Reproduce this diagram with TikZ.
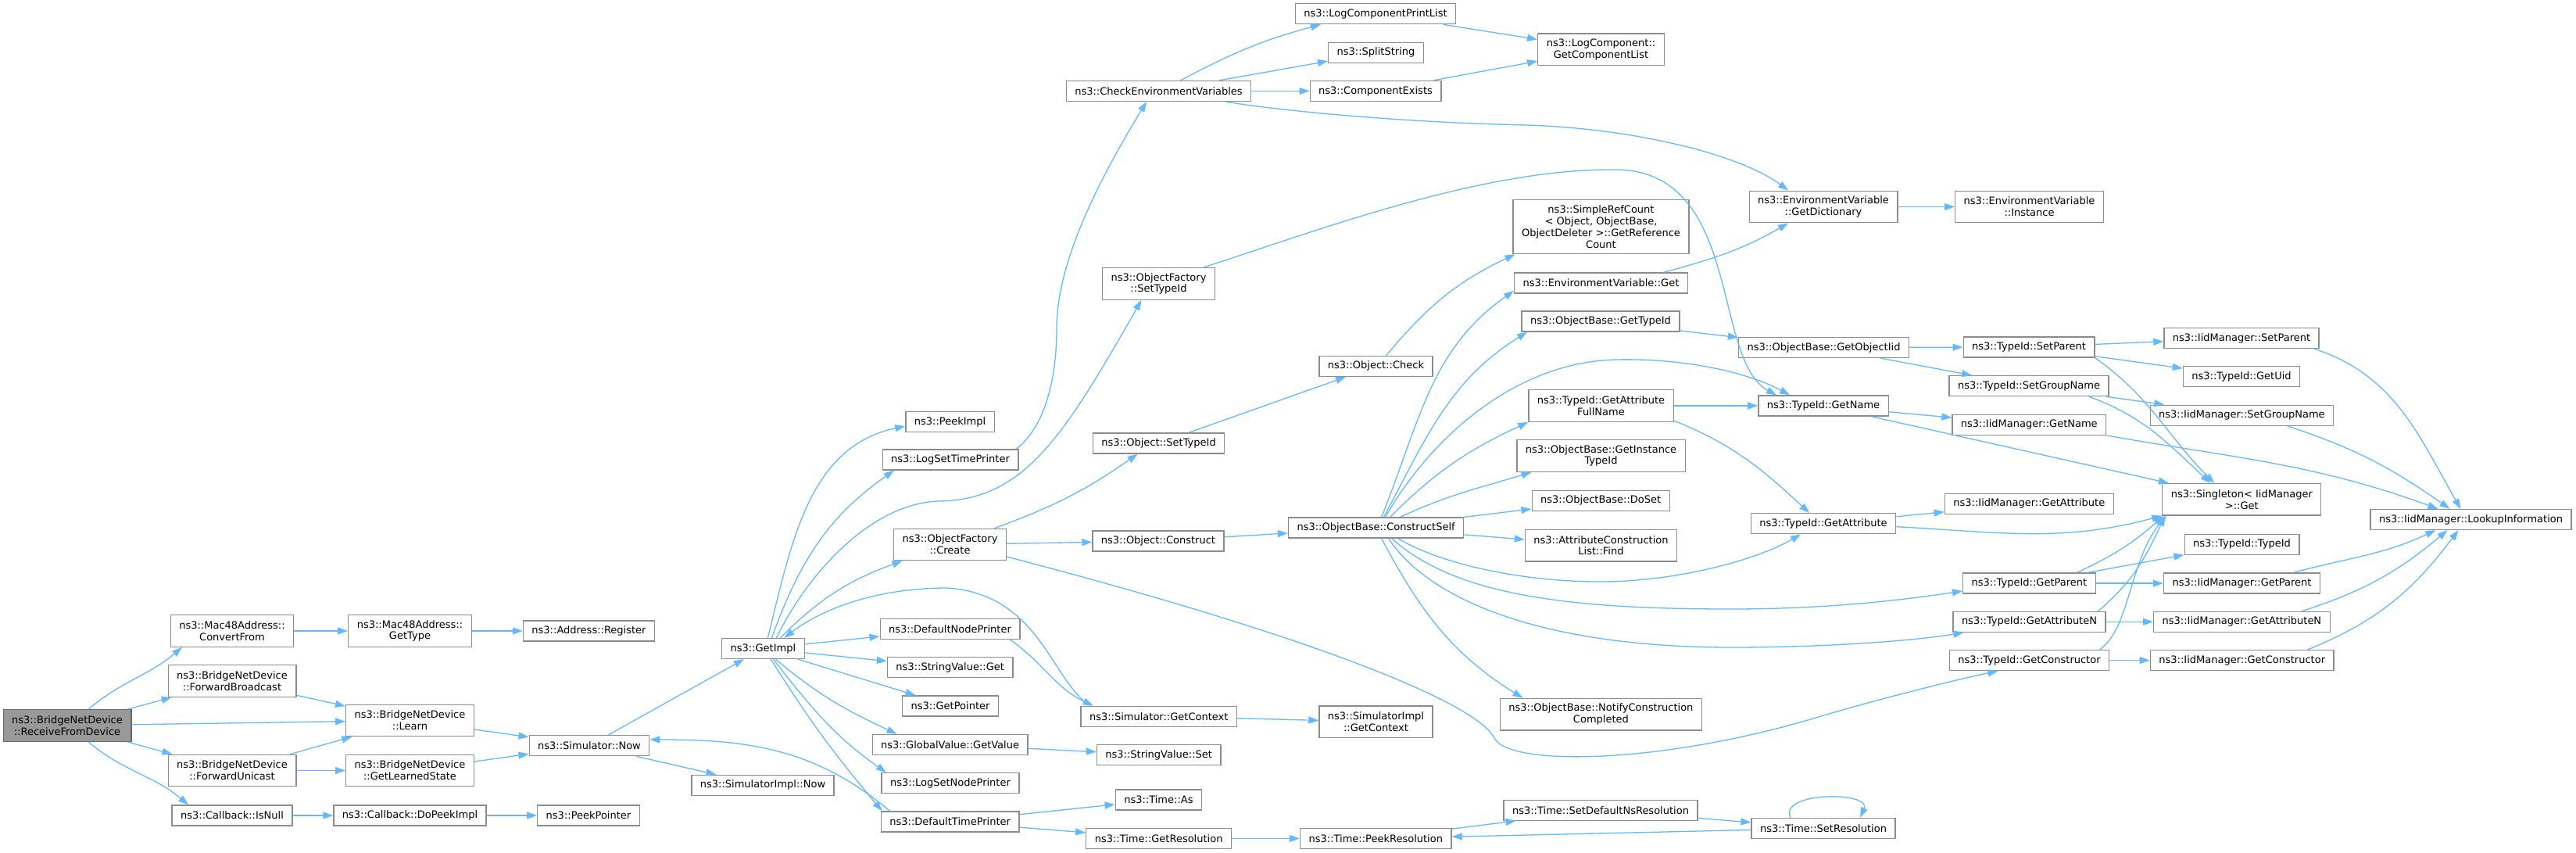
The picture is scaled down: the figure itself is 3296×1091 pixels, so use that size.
\documentclass[tikz,border=0pt]{standalone}
\usepackage{fontspec}
\setmainfont{DejaVu Sans}
\usetikzlibrary{arrows.meta}

\definecolor{callblue}{HTML}{63B8FF}
\definecolor{boxgray}{HTML}{8C8C8C}
\definecolor{rootgray}{HTML}{999999}
\definecolor{rootline}{HTML}{666666}

\tikzset{
  func/.style={draw=boxgray, fill=white, line width=1.3pt, inner xsep=11pt, inner ysep=2pt,
    minimum height=26pt, align=center},
  functwo/.style={func, minimum height=40.5pt},
  rootfunc/.style={functwo, fill=rootgray, draw=rootline},
  call/.style={draw=callblue, line width=1.3pt, -{Triangle[length=13pt,width=9pt]}},
}

\begin{document}
\begin{tikzpicture}[x=1pt, y=1pt, font=\fontsize{13}{14.8}\selectfont]
    \useasboundingbox (0,0) rectangle (3296,-1091);

    % Functions, column by column:
    \node[rootfunc] (rfd) at (86,-928) {ns3::BridgeNetDevice\\::ReceiveFromDevice};

    \node[functwo] (cvf) at (297,-807) {ns3::Mac48Address::\\ConvertFrom};
    \node[functwo] (fbc) at (297,-871) {ns3::BridgeNetDevice\\::ForwardBroadcast};
    \node[functwo] (fuc) at (297,-985.5) {ns3::BridgeNetDevice\\::ForwardUnicast};
    \node[func] (isnull) at (297,-1043) {ns3::Callback::IsNull};

    \node[functwo] (gettype) at (524.5,-807) {ns3::Mac48Address::\\GetType};
    \node[functwo] (learn) at (524.5,-921.4) {ns3::BridgeNetDevice\\::Learn};
    \node[functwo] (gls) at (524.5,-985.5) {ns3::BridgeNetDevice\\::GetLearnedState};
    \node[func] (dopeek) at (524.5,-1043) {ns3::Callback::DoPeekImpl};

    \node[func] (register) at (753.5,-807) {ns3::Address::Register};
    \node[func] (simnow) at (754,-953.6) {ns3::Simulator::Now};
    \node[func] (peekptr) at (753,-1043) {ns3::PeekPointer};

    \node[func] (getimpl) at (976.4,-829.5) {ns3::GetImpl};
    \node[func] (simimplnow) at (976,-1004.3) {ns3::SimulatorImpl::Now};

    \node[func] (peekimpl) at (1215.5,-539.5) {ns3::PeekImpl};
    \node[func] (logstp) at (1216,-588) {ns3::LogSetTimePrinter};
    \node[functwo] (ofcreate) at (1215.5,-696.5) {ns3::ObjectFactory\\::Create};
    \node[func] (dnp) at (1215.5,-804.6) {ns3::DefaultNodePrinter};
    \node[func] (svget) at (1215.7,-853.8) {ns3::StringValue::Get};
    \node[func] (getptr) at (1216,-903) {ns3::GetPointer};
    \node[func] (gvget) at (1215.6,-952.5) {ns3::GlobalValue::GetValue};
    \node[func] (logsnp) at (1216,-1001.7) {ns3::LogSetNodePrinter};
    \node[func] (dtp) at (1215.7,-1051) {ns3::DefaultTimePrinter};

    \node[func] (cev) at (1482.5,-116.5) {ns3::CheckEnvironmentVariables};
    \node[functwo] (ofsettid) at (1482.5,-363) {ns3::ObjectFactory\\::SetTypeId};
    \node[func] (osettid) at (1482.5,-567) {ns3::Object::SetTypeId};
    \node[func] (oconstruct) at (1482,-692) {ns3::Object::Construct};
    \node[func] (simgetctx) at (1482.7,-916.2) {ns3::Simulator::GetContext};
    \node[func] (svset) at (1482.7,-965.5) {ns3::StringValue::Set};
    \node[func] (timeas) at (1482.4,-1023) {ns3::Time::As};
    \node[func] (getres) at (1482.6,-1072.4) {ns3::Time::GetResolution};

    \node[func] (lcpl) at (1760,-17.7) {ns3::LogComponentPrintList};
    \node[func] (split) at (1760.5,-67.4) {ns3::SplitString};
    \node[func] (compex) at (1760,-116.5) {ns3::ComponentExists};
    \node[func] (ocheck) at (1760.5,-468.4) {ns3::Object::Check};
    \node[func] (cself) at (1760.6,-675) {ns3::ObjectBase::ConstructSelf};
    \node[functwo] (simimplctx) at (1760.5,-923.2) {ns3::SimulatorImpl\\::GetContext};
    \node[func] (peekres) at (1760.3,-1072.4) {ns3::Time::PeekResolution};

    \node[functwo] (gcl) at (2048.5,-63.2) {ns3::LogComponent::\\GetComponentList};
    \node[func, minimum height=69.5pt] (srefc) at (2048.5,-290)
      {ns3::SimpleRefCount\hfill\\< Object, ObjectBase,\hfill\\ObjectDeleter >::GetReference\\Count};
    \node[func] (envget) at (2048.5,-362) {ns3::EnvironmentVariable::Get};
    \node[func] (obgettid) at (2048,-411) {ns3::ObjectBase::GetTypeId};
    \node[functwo] (gafn) at (2048.5,-519) {ns3::TypeId::GetAttribute\\FullName};
    \node[functwo] (gitid) at (2048.5,-583) {ns3::ObjectBase::GetInstance\\TypeId};
    \node[func] (doset) at (2048.2,-640.3) {ns3::ObjectBase::DoSet};
    \node[functwo] (aclfind) at (2048.5,-697.7) {ns3::AttributeConstruction\\List::Find};
    \node[functwo] (notify) at (2048.4,-913.7) {ns3::ObjectBase::NotifyConstruction\\Completed};
    \node[func] (setdef) at (2048,-1036.2) {ns3::Time::SetDefaultNsResolution};

    \node[functwo] (getdict) at (2333,-264.5) {ns3::EnvironmentVariable\\::GetDictionary};
    \node[func] (getoiid) at (2333.5,-444.5) {ns3::ObjectBase::GetObjectIid};
    \node[func] (tgetname) at (2333,-519) {ns3::TypeId::GetName};
    \node[func] (tgetattr) at (2333,-669.7) {ns3::TypeId::GetAttribute};
    \node[func] (setres) at (2333,-1059.4) {ns3::Time::SetResolution};

    \node[functwo] (evinst) at (2596.5,-264.5) {ns3::EnvironmentVariable\\::Instance};
    \node[func] (tsetpar) at (2596,-444) {ns3::TypeId::SetParent};
    \node[func] (tsetgrp) at (2596,-493.7) {ns3::TypeId::SetGroupName};
    \node[func] (igetname) at (2596.3,-543.3) {ns3::IidManager::GetName};
    \node[func] (igetattr) at (2596.3,-644.4) {ns3::IidManager::GetAttribute};
    \node[func] (tgetpar) at (2596.4,-746) {ns3::TypeId::GetParent};
    \node[func] (tgetattrn) at (2596.5,-795.3) {ns3::TypeId::GetAttributeN};
    \node[func] (tgetctor) at (2596.5,-844.5) {ns3::TypeId::GetConstructor};

    \node[func] (isetpar) at (2868,-432.5) {ns3::IidManager::SetParent};
    \node[func] (tgetuid) at (2868,-481.5) {ns3::TypeId::GetUid};
    \node[func] (isetgrp) at (2868.4,-531.2) {ns3::IidManager::SetGroupName};
    \node[functwo] (singleton) at (2868.3,-638.8) {ns3::Singleton< IidManager\\>::Get};
    \node[func] (ttypeid) at (2868.5,-696.3) {ns3::TypeId::TypeId};
    \node[func] (igetpar) at (2868.5,-746) {ns3::IidManager::GetParent};
    \node[func] (igetattrn) at (2868.4,-795.3) {ns3::IidManager::GetAttributeN};
    \node[func] (igetctor) at (2868.7,-844.5) {ns3::IidManager::GetConstructor};

    \node[func] (lookup) at (3161.5,-664.5) {ns3::IidManager::LookupInformation};

    % Calls out of the bridge device:
    \draw[call] ([xshift=27]rfd.north) to[out=40,in=220] ([xshift=-64]cvf.south);
    \draw[call] (rfd) -- (fbc);
    \draw[call] (rfd) -- (learn);
    \draw[call] (rfd) -- (fuc);
    \draw[call] ([xshift=27]rfd.south) to[out=-40,in=140] ([xshift=-56]isnull.north);
    \draw[call] (cvf) -- (gettype);
    \draw[call] (gettype) -- (register);
    \draw[call] (fbc) -- (learn);
    \draw[call] (fuc) -- (learn);
    \draw[call] (fuc) -- (gls);
    \draw[call] (learn) -- (simnow);
    \draw[call] (gls) -- (simnow);
    \draw[call] (isnull) -- (dopeek);
    \draw[call] (dopeek) -- (peekptr);

    % Simulator and GetImpl:
    \draw[call] (simnow) -- (getimpl);
    \draw[call] (simnow) -- (simimplnow);
    \draw[call] ([xshift=-77]dtp.north) to[out=140,in=0] ([yshift=7.6]simnow.east);
    \draw[call] ([xshift=6]getimpl.north) to[out=76,in=192] ([yshift=-5.5]peekimpl.west);
    \draw[call] ([xshift=11]getimpl.north) to[out=70,in=215] ([xshift=-72]logstp.south);
    \draw[call] ([xshift=17]getimpl.north) .. controls (1030,-740) and (1110,-645) .. (1200,-641)
      .. controls (1310,-640) and (1360,-560) .. ([xshift=-22]ofsettid.south);
    \draw[call] ([xshift=22]getimpl.north) to[out=45,in=200] ([xshift=-61]ofcreate.south);
    \draw[call] ([xshift=-88]simgetctx.north) .. controls (1345,-870) and (1330,-760) .. (1212,-752)
      .. controls (1120,-752) and (1050,-780) .. ([xshift=27]getimpl.north);
    \draw[call] ([xshift=77]dnp.south) to[out=-35,in=155] ([xshift=-84]simgetctx.north);
    \draw[call] (getimpl) -- (dnp);
    \draw[call] (getimpl) -- (svget);
    \draw[call] (getimpl) -- (getptr);
    \draw[call] ([xshift=16]getimpl.south) to[out=-40,in=155] ([xshift=-68]gvget.north);
    \draw[call] ([xshift=13]getimpl.south) to[out=-52,in=145] ([xshift=-82]logsnp.north);
    \draw[call] ([xshift=10]getimpl.south) to[out=-58,in=130] ([xshift=-87]dtp.north);
    \draw[call] (dtp) -- (timeas);
    \draw[call] (dtp) -- (getres);
    \draw[call] (gvget) -- (svset);
    \draw[call] (simgetctx) -- (simimplctx);
    \draw[call] (getres) -- (peekres);
    \draw[call] ([xshift=84]logstp.north) .. controls (1335,-548) and (1352,-490) .. (1352,-420)
      .. controls (1352,-340) and (1400,-240) .. ([xshift=-15.5]cev.south);

    % Object factory:
    \draw[call] ([xshift=57]ofcreate.north) to[out=20,in=215] ([xshift=-27]osettid.south);
    \draw[call] (ofcreate) -- (oconstruct);
    \draw[call] ([yshift=-15.5]ofcreate.east) .. controls (1687,-816) and (1890,-900) .. (1912,-944)
      .. controls (1930,-980) and (2120,-978) .. (2320,-919)
      .. controls (2400,-895) and (2500,-870) .. ([xshift=-40]tgetctor.south);
    \draw[call] (osettid) -- (ocheck);
    \draw[call] ([xshift=13]ocheck.north) to[out=50,in=205] ([xshift=-110]srefc.south);
    \draw[call] (oconstruct) -- (cself);
    \draw[call] ([xshift=57]ofsettid.north) .. controls (1700,-290) and (1900,-215) .. (2069,-217)
      .. controls (2230,-220) and (2190,-460) .. ([xshift=-60]tgetname.north);

    % Environment variables:
    \draw[call] ([xshift=28]cev.north) to[out=28,in=195] ([xshift=-70]lcpl.south);
    \draw[call] (cev) -- (split);
    \draw[call] (cev) -- (compex);
    \draw[call] ([xshift=86]cev.south) .. controls (1640,-142) and (1800,-157) .. (1954,-160)
      .. controls (2100,-165) and (2230,-200) .. ([xshift=-45]getdict.north);
    \draw[call] (lcpl) -- (gcl);
    \draw[call] (compex) -- (gcl);
    \draw[call] (getdict) -- (evinst);
    \draw[call] ([xshift=80]envget.north) to[out=15,in=210] ([xshift=-45]getdict.south);

    % ConstructSelf:
    \draw[call] ([xshift=7]cself.north) to[out=68,in=215] ([yshift=-10]envget.west);
    \draw[call] ([xshift=10]cself.north) to[out=62,in=212] ([xshift=-94]obgettid.south);
    \draw[call] ([xshift=12]cself.north) .. controls (1830,-560) and (1940,-462) .. (2069,-460)
      .. controls (2160,-458) and (2240,-478) .. ([xshift=-43]tgetname.north);
    \draw[call] ([xshift=18]cself.north) to[out=45,in=205] (gafn.south west);
    \draw[call] ([xshift=31]cself.north) to[out=25,in=197] ([xshift=-89]gitid.south);
    \draw[call] (cself) -- (doset);
    \draw[call] (cself) -- (aclfind);
    \draw[call] ([xshift=28]cself.south) .. controls (1850,-725) and (1960,-745) .. (2053,-744)
      .. controls (2150,-743) and (2250,-715) .. ([xshift=-29]tgetattr.south);
    \draw[call] ([xshift=20]cself.south) .. controls (1860,-760) and (2000,-779) .. (2215,-779)
      .. controls (2350,-779) and (2450,-765) .. ([yshift=-10]tgetpar.west);
    \draw[call] ([xshift=16]cself.south) .. controls (1830,-770) and (1980,-828) .. (2215,-828)
      .. controls (2350,-828) and (2460,-818) .. ([xshift=-84]tgetattrn.south);
    \draw[call] ([xshift=7]cself.south) to[out=-62,in=148] ([xshift=-100]notify.north);

    % TypeId and IidManager:
    \draw[call] ([yshift=-19]gafn.east) to[out=-22,in=137] ([xshift=-18]tgetattr.north);
    \draw[call] (gafn) -- (tgetname);
    \draw[call] (obgettid) -- (getoiid);
    \draw[call] (getoiid) -- (tsetpar);
    \draw[call] (getoiid) -- (tsetgrp);
    \draw[call] (tgetname) -- (igetname);
    \draw[call] (tgetname) -- (singleton);
    \draw[call] (tgetattr) -- (igetattr);
    \draw[call] ([yshift=-4]tgetattr.east) to[out=-3,in=195] (singleton.south west);
    \draw[call] (tsetpar) -- (isetpar);
    \draw[call] (tsetpar) -- (tgetuid);
    \draw[call] (tsetpar.south east) to[out=-35,in=135] ([xshift=-35]singleton.north);
    \draw[call] (tsetgrp) -- (isetgrp);
    \draw[call] ([xshift=77]tsetgrp.south) to[out=-20,in=137] ([xshift=-40]singleton.north);
    \draw[call] ([xshift=93]isetpar.south) to[out=-18,in=120] ([xshift=-13]lookup.north);
    \draw[call] ([xshift=58]isetgrp.south) to[out=-18,in=145] ([xshift=-27]lookup.north);
    \draw[call] (igetname.south east) to[out=-10,in=160] ([xshift=-42]lookup.north);
    \draw[call] ([xshift=61]tgetpar.north) to[out=25,in=222] ([xshift=2]singleton.south west);
    \draw[call] (tgetpar) -- (ttypeid);
    \draw[call] (tgetpar) -- (igetpar);
    \draw[call] ([xshift=88]tgetattrn.north) to[out=40,in=245] ([xshift=4]singleton.south west);
    \draw[call] (tgetattrn) -- (igetattrn);
    \draw[call] ([xshift=90]tgetctor.north) .. controls (2725,-805) and (2725,-715) .. ([xshift=6]singleton.south west);
    \draw[call] (tgetctor) -- (igetctor);
    \draw[call] ([xshift=66]igetpar.north) to[out=15,in=205] ([xshift=-45]lookup.south);
    \draw[call] ([xshift=77]igetattrn.north) to[out=18,in=220] ([xshift=-30]lookup.south);
    \draw[call] ([xshift=84]igetctor.north) to[out=22,in=233] ([xshift=-16]lookup.south);

    % Time resolution:
    \draw[call] (peekres) -- (setdef);
    \draw[call] (setdef) -- (setres);
    \draw[call] (setres) -- (peekres);
    \draw[call] ([xshift=-42]setres.north) .. controls (2275,-1012) and (2395,-1012) .. ([xshift=47]setres.north);
\end{tikzpicture}
\end{document}
